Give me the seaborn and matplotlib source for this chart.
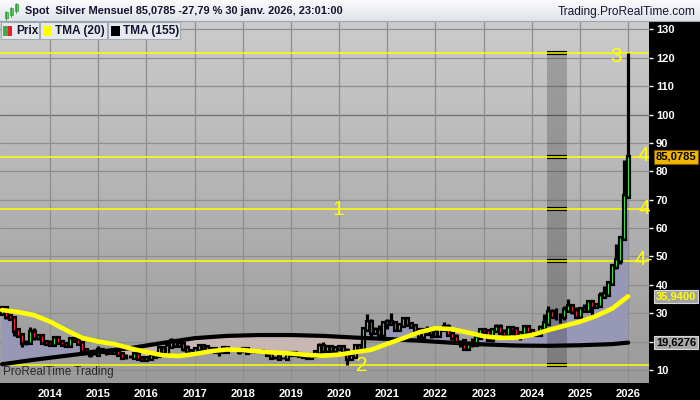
import numpy as np
import pandas as pd
import matplotlib
matplotlib.use("Agg")
import matplotlib.pyplot as plt
import seaborn as sns
from matplotlib.colors import LinearSegmentedColormap
from matplotlib.patches import Polygon, Rectangle

# ---------------------------------------------------------------
# DATA  (monthly silver candles, Jan 2013 -> Jan 2026)
# ---------------------------------------------------------------
OPEN = [
    30.0, 31.8, 29.0, 28.3, 24.1, 22.2, 19.7, 19.7, 23.5, 21.7, 21.9, 19.9,  # 2013
    19.5, 19.2, 21.2, 19.7, 19.1, 18.7, 21.0, 20.4, 19.4, 17.1, 16.2, 15.5,  # 2014
    15.6, 17.2, 16.6, 16.6, 16.3, 16.8, 15.6, 14.7, 14.6, 14.5, 15.5, 14.1,  # 2015
    13.8, 14.1, 15.0, 15.4, 17.8, 16.0, 18.6, 20.3, 18.7, 19.2, 17.6, 16.5,  # 2016
    16.0, 17.5, 18.4, 18.2, 17.2, 17.3, 16.6, 16.7, 17.7, 16.7, 16.7, 16.5,  # 2017
    17.1, 17.3, 16.4, 16.3, 16.3, 16.4, 16.3, 15.5, 14.5, 14.6, 14.2, 14.1,  # 2018
    15.5, 16.1, 15.6, 15.1, 14.9, 14.6, 15.3, 16.4, 18.4, 17.0, 18.1, 16.9,  # 2019
    17.9, 18.0, 16.7, 14.1, 15.0, 18.6, 17.8, 24.4, 26.8, 23.3, 23.9, 22.6,  # 2020
    26.4, 26.9, 26.7, 24.5, 25.9, 27.9, 26.1, 25.5, 24.0, 22.0, 24.0, 23.0,  # 2021
    23.3, 22.4, 24.3, 25.1, 22.8, 21.6, 20.3, 20.3, 17.8, 19.0, 19.2, 21.5,  # 2022
    24.0, 23.6, 20.8, 24.1, 25.0, 23.5, 22.8, 24.9, 24.5, 22.4, 22.9, 25.3,  # 2023
    23.8, 22.9, 22.7, 24.9, 26.6, 30.4, 29.1, 28.9, 28.9, 31.1, 32.7, 30.6,  # 2024
    28.9, 31.3, 31.2, 34.1, 32.6, 33.0, 36.1, 36.6, 40.7, 46.6, 48.7, 56.4,  # 2025
    71.3,                                                                    # 2026
]
HIGH = [
    32.4, 32.4, 29.3, 28.4, 24.5, 23.1, 20.5, 25.1, 24.7, 22.6, 22.2, 20.3,
    20.4, 21.9, 21.9, 20.3, 19.7, 21.2, 21.6, 20.5, 19.4, 17.8, 16.6, 17.3,
    18.5, 17.4, 17.2, 17.0, 17.8, 16.9, 15.7, 15.6, 15.3, 16.4, 15.7, 14.6,
    14.3, 15.5, 16.1, 17.8, 18.0, 18.8, 21.1, 20.5, 20.0, 19.3, 18.9, 17.2,
    17.6, 18.5, 18.5, 18.7, 17.6, 17.8, 16.8, 17.8, 18.2, 17.3, 17.5, 17.2,
    17.7, 17.4, 16.8, 17.3, 16.8, 17.3, 16.4, 15.6, 14.8, 14.9, 14.7, 15.6,
    16.2, 16.2, 15.6, 15.2, 15.0, 15.5, 16.6, 19.6, 19.8, 18.2, 18.2, 18.0,
    18.9, 18.9, 17.9, 15.6, 18.7, 18.8, 24.6, 29.8, 28.0, 25.3, 26.0, 26.7,
    27.9, 30.1, 26.7, 26.4, 28.7, 28.3, 26.9, 25.7, 24.4, 24.8, 25.4, 23.4,
    24.7, 24.8, 26.9, 26.2, 22.8, 22.5, 20.4, 20.9, 19.9, 21.2, 22.2, 24.3,
    24.6, 23.9, 24.2, 26.1, 26.1, 24.5, 25.3, 25.0, 24.8, 23.7, 25.5, 25.9,
    24.1, 23.4, 25.8, 29.8, 32.5, 31.5, 31.8, 29.9, 32.7, 34.9, 33.3, 32.2,
    31.7, 33.4, 34.6, 34.6, 33.6, 37.3, 39.5, 40.8, 47.2, 54.5, 57.0, 84.0,
    121.6,
]
LOW = [
    29.9, 28.1, 28.1, 22.0, 21.8, 18.2, 18.8, 19.5, 20.6, 20.5, 19.4, 18.8,
    19.0, 19.1, 19.6, 19.0, 18.7, 18.6, 20.4, 19.3, 16.9, 15.8, 14.4, 15.2,
    15.6, 16.1, 15.3, 15.6, 16.2, 15.5, 14.4, 13.9, 14.2, 14.5, 13.9, 13.6,
    13.6, 13.9, 14.8, 15.0, 15.8, 15.8, 18.6, 18.4, 18.6, 16.7, 16.4, 15.6,
    15.9, 17.3, 16.8, 17.1, 16.2, 16.5, 14.8, 16.6, 16.5, 16.5, 16.5, 15.6,
    16.9, 16.1, 16.1, 16.1, 16.1, 15.9, 15.4, 14.3, 13.9, 14.3, 13.9, 14.0,
    15.3, 15.6, 14.8, 14.7, 14.3, 14.3, 14.9, 16.2, 16.9, 17.0, 16.6, 16.6,
    17.5, 16.5, 11.64, 14.0, 14.7, 17.2, 17.8, 23.8, 21.7, 22.9, 21.9, 22.6,
    24.3, 25.9, 23.8, 24.0, 25.6, 25.4, 24.9, 22.2, 21.4, 22.0, 22.9, 21.4,
    22.0, 22.1, 24.0, 22.7, 20.5, 20.1, 18.1, 17.6, 17.6, 18.1, 19.1, 21.4,
    22.7, 20.7, 19.9, 23.6, 23.2, 22.1, 22.5, 22.3, 21.9, 20.7, 22.2, 22.5,
    21.9, 22.3, 22.5, 24.8, 26.0, 28.6, 27.6, 26.5, 27.7, 30.7, 29.7, 28.8,
    28.7, 31.0, 31.1, 28.3, 31.7, 32.8, 35.3, 36.2, 40.0, 45.5, 47.5, 56.1,
    70.9,
]
CLOSE = [
    31.8, 29.0, 28.3, 24.1, 22.2, 19.7, 19.7, 23.5, 21.7, 21.9, 19.9, 19.5,
    19.2, 21.2, 19.7, 19.1, 18.7, 21.0, 20.4, 19.4, 17.1, 16.2, 15.5, 15.6,
    17.2, 16.6, 16.6, 16.3, 16.8, 15.6, 14.7, 14.6, 14.5, 15.5, 14.1, 13.8,
    14.1, 15.0, 15.4, 17.8, 16.0, 18.6, 20.3, 18.7, 19.2, 17.6, 16.5, 16.0,
    17.5, 18.4, 18.2, 17.2, 17.3, 16.6, 16.7, 17.7, 16.7, 16.7, 16.5, 17.1,
    17.3, 16.4, 16.3, 16.3, 16.4, 16.3, 15.5, 14.5, 14.6, 14.2, 14.1, 15.5,
    16.1, 15.6, 15.1, 14.9, 14.6, 15.3, 16.4, 18.4, 17.0, 18.1, 16.9, 17.9,
    18.0, 16.7, 14.1, 15.0, 18.6, 17.8, 24.4, 26.8, 23.3, 23.9, 22.6, 26.4,
    26.9, 26.7, 24.5, 25.9, 27.9, 26.1, 25.5, 24.0, 22.0, 24.0, 23.0, 23.3,
    22.4, 24.3, 25.1, 22.8, 21.6, 20.3, 20.3, 17.8, 19.0, 19.2, 21.5, 24.0,
    23.6, 20.8, 24.1, 25.0, 23.5, 22.8, 24.9, 24.5, 22.4, 22.9, 25.3, 23.8,
    22.9, 22.7, 24.9, 26.6, 30.4, 29.1, 28.9, 28.9, 31.1, 32.7, 30.6, 28.9,
    31.3, 31.2, 34.1, 32.6, 33.0, 36.1, 36.6, 40.7, 46.6, 48.7, 56.4, 71.3,
    85.0785,
]

# triangular moving averages (month index -> value)
TMA20_X = [0, 4, 8, 12, 16, 20, 24, 28, 32, 36, 40, 44, 48, 52, 56, 60, 64, 68, 72, 76,
           80, 84, 88, 92, 96, 100, 104, 108, 112, 116, 120, 124, 128, 132, 136, 140,
           144, 148, 152, 156]
TMA20 = [31.1, 30.4, 29.3, 27.0, 24.0, 21.3, 20.0, 19.1, 17.6, 16.3, 15.2, 14.9, 15.6,
         16.6, 17.2, 17.0, 16.5, 16.1, 15.8, 15.3, 15.0, 15.4, 16.3, 17.1, 19.2, 21.2,
         23.3, 24.7, 24.4, 23.2, 21.9, 21.3, 21.4, 22.3, 24.0, 25.5, 27.0, 29.0, 31.6,
         35.94]
TMA155_X = [0, 8, 16, 24, 32, 40, 48, 56, 64, 72, 80, 88, 96, 104, 112, 120, 128, 136,
            144, 152, 156]
TMA155 = [12.0, 13.6, 15.0, 16.4, 17.7, 19.5, 21.2, 22.0, 22.3, 22.3, 22.0, 21.4, 20.9,
          20.3, 19.6, 19.0, 18.6, 18.5, 18.7, 19.1, 19.6276]

YEAR_LABELS = [str(y) for y in range(2014, 2027)]
YEAR_POS = [12 * k for k in range(1, 14)]
Y_TICKS = [10, 20, 30, 40, 50, 60, 70, 80, 90, 100, 110, 120, 130]
Y_LABELS = ["10", "", "30", "40", "50", "60", "70", "80", "90", "100", "110", "120", "130"]

# drawn levels (low 2020, high 2026 and thirds / half between them)
LEVELS = [11.64, 48.3, 66.6, 85.0, 121.6]
LEVEL_TAGS = [("1", 83.7, 66.6), ("2", 89.7, 11.7), ("3", 153.0, 120.4),
              ("4", 159.8, 85.4), ("4", 160.0, 67.0), ("4-", 159.8, 48.8)]
BAND = (135.8, 140.8)

HEADER = "Spot  Silver Mensuel 85,0785 -27,79 % 30 janv. 2026, 23:01:00"
SITE = "Trading.ProRealTime.com"

assert len(OPEN) == len(HIGH) == len(LOW) == len(CLOSE) == 157

# ---------------------------------------------------------------
sns.set_style("white")
plt.rcParams["font.family"] = ["Liberation Sans", "DejaVu Sans"]

x = np.arange(len(CLOSE))
o, h, l, c = map(np.array, (OPEN, HIGH, LOW, CLOSE))

fig = plt.figure(figsize=(7, 4), dpi=100)
fig.patch.set_facecolor("black")
ax = fig.add_axes([0, 17 / 400, 649 / 700, 361 / 400])

XLIM = (-0.5, 161.2)
YLIM = (5.4, 132.6)

# gray gradient background
bg = LinearSegmentedColormap.from_list("bg", ["#9a9a9a", "#cbcbcb"])
ax.imshow(np.linspace(0, 1, 256)[:, None], extent=[*XLIM, *YLIM], origin="lower",
          cmap=bg, aspect="auto", zorder=0)

# grid
for yv in Y_TICKS:
    ax.axhline(yv, color="#6e6e6e" if yv == 100 else "#8e8e8e", lw=0.9, zorder=1)
for xv in YEAR_POS:
    ax.axvline(xv, color="#8e8e8e", lw=0.9, zorder=1)

# fill between close and TMA(155): purple above, pink below
area = list(zip(x, c)) + list(zip(TMA155_X[::-1], TMA155[::-1]))
above = list(zip(TMA155_X, TMA155)) + [(200, 300), (-50, 300)]
below = list(zip(TMA155_X, TMA155)) + [(200, -50), (-50, -50)]
for clip_pts, col in ((above, "#9797b6"), (below, "#c8b6b3")):
    poly = Polygon(area, closed=True, facecolor=col, edgecolor="none", zorder=2)
    ax.add_patch(poly)
    clip = Polygon(clip_pts, closed=True, transform=ax.transData)
    poly.set_clip_path(clip)

# dark vertical band
ax.add_patch(Rectangle((BAND[0], LEVELS[0]), BAND[1] - BAND[0], LEVELS[-1] - LEVELS[0],
                       facecolor="black", alpha=0.2, edgecolor="none", zorder=2.5))

# horizontal yellow levels with black marks inside the band
for lv in LEVELS:
    ax.plot(BAND, [lv, lv], color="black", lw=3.0, solid_capstyle="butt", zorder=3)
    ax.axhline(lv, color="#ffff00", lw=1.1, zorder=3.1)

# candles
ax.vlines(x, l, h, colors="black", lw=2.3, zorder=4)
body = ax.vlines(x, np.minimum(o, c), np.maximum(o, c), colors="black", lw=3.7, zorder=4)
body.set_capstyle("projecting")
up = c >= o
ax.vlines(x, np.minimum(o, c), np.maximum(o, c),
          colors=np.where(up, "#33e04c", "#f01e4a"), lw=0.8, zorder=4.2)

# moving averages
df20 = pd.DataFrame({"m": TMA20_X, "v": TMA20})
df155 = pd.DataFrame({"m": TMA155_X, "v": TMA155})
sns.lineplot(data=df155, x="m", y="v", ax=ax, color="black", lw=3.0, zorder=5)
sns.lineplot(data=df20, x="m", y="v", ax=ax, color="#ffff00", lw=3.3, zorder=5.5)

for txt, xi, yv in LEVEL_TAGS:
    ax.text(xi, yv, txt, color="#ffff00", fontsize=15, ha="center", va="center", zorder=6)

ax.text(0.004, 0.015, "ProRealTime Trading", transform=ax.transAxes, fontsize=8.5,
        color="#2a2a2a", ha="left", va="bottom", zorder=6)

ax.set_xlim(*XLIM)
ax.set_ylim(*YLIM)
ax.set_xlabel("")
ax.set_ylabel("")
ax.set_xticks(YEAR_POS)
ax.set_xticklabels(YEAR_LABELS)
ax.set_yticks(Y_TICKS)
ax.set_yticklabels(Y_LABELS)
ax.yaxis.tick_right()
ax.tick_params(axis="x", length=0, pad=4.5, labelcolor="white", labelsize=8)
ax.tick_params(axis="y", length=3, width=1, color="white", pad=2, labelcolor="white",
               labelsize=8)
for lab in ax.get_xticklabels() + ax.get_yticklabels():
    lab.set_fontweight("bold")
for sp in ax.spines.values():
    sp.set_visible(False)

# price tags on the right axis
tags = [(CLOSE[-1], "85,0785", "#f2b600", "black", "#7a5a00"),
        (TMA20[-1], "35,9400", "#a2a2a2", "#ffff00", "#d8d8d8"),
        (TMA155[-1], "19,6276", "#a8a8a8", "black", "#d8d8d8")]
for val, txt, fc, tc, ec in tags:
    ax.annotate(txt, xy=(1, val), xycoords=("axes fraction", "data"), xytext=(7, 0),
                textcoords="offset pixels", ha="left", va="center", fontsize=8,
                fontweight="bold", color=tc, annotation_clip=False, zorder=7,
                bbox=dict(boxstyle="square,pad=0.15", fc=fc, ec=ec, lw=0.8))

# header + legend overlay in pixel coordinates
ov = fig.add_axes([0, 0, 1, 1], zorder=10)
ov.axis("off")
hdr = LinearSegmentedColormap.from_list("hdr", ["#fbfbfc", "#dfe3ea"])
ov.imshow(np.linspace(0, 1, 64)[:, None], extent=[0, 700, 21, 0], cmap=hdr, aspect="auto")
ov.plot([0, 700], [21, 21], color="#9aa4b0", lw=0.8)
ov.set_xlim(0, 700)
ov.set_ylim(400, 0)

# tiny candlestick icon
for cx, y0, y1 in ((6, 12, 18), (11, 8, 15), (16, 4, 11)):
    ov.plot([cx, cx], [y0 - 1.5, y1 + 1.5], color="#2f9a3a", lw=0.6)
    ov.add_patch(Rectangle((cx - 1.5, y0), 3, y1 - y0, fc="#5ccf5c", ec="#2f9a3a", lw=0.5))

ov.text(25, 11.5, HEADER, fontsize=7.9, fontweight="bold", color="#151530",
        ha="left", va="center")
ov.text(696, 11.5, SITE, fontsize=8.6, color="#151530", ha="right", va="center")

boxes = [(1, 39, "Prix", None), (40, 107, "TMA (20)", "#ffff00"),
         (108, 180, "TMA (155)", "black")]
for x0, x1, label, sw in boxes:
    ov.add_patch(Rectangle((x0, 22), x1 - x0, 17, fc="#e6eaef", ec="#a2aab4", lw=0.8))
    if sw is None:
        ov.add_patch(Rectangle((x0 + 2, 26), 4.5, 10, fc="#3cb043", ec="none"))
        ov.add_patch(Rectangle((x0 + 6.5, 26), 4.5, 10, fc="#ee1c2e", ec="none"))
    else:
        ov.add_patch(Rectangle((x0 + 3, 26), 9, 10, fc=sw, ec="none"))
    ov.text(x0 + 15, 31, label, fontsize=8.6, fontweight="bold", color="#151530",
            ha="left", va="center")

fig.savefig("out.png", dpi=100, facecolor=fig.get_facecolor())
